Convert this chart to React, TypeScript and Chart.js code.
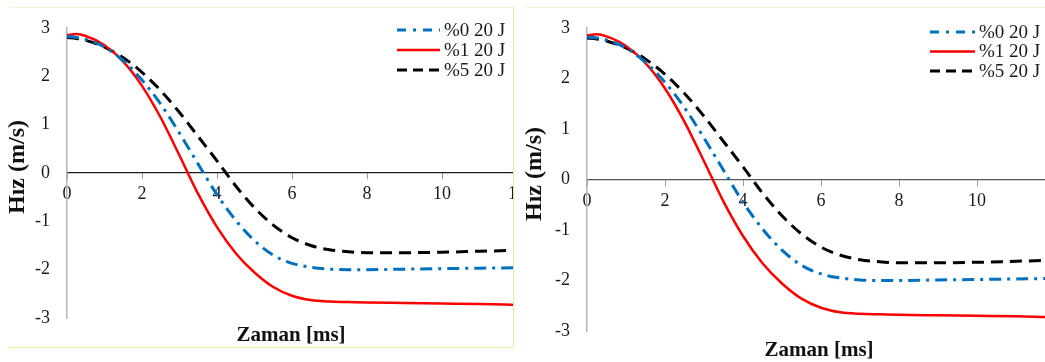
import React, { useEffect, useRef } from "react";
import { Chart, registerables } from "chart.js";

Chart.register(...registerables);

// ---- data ----
const timeMs = [0, 0.25, 0.5, 1, 1.5, 2, 2.5, 3, 3.5, 4, 4.5, 5, 5.5, 6, 6.5, 7, 7.5, 8, 9, 10, 11, 12];
const series0Label = "%0 20 J";
const series0 = [2.82, 2.8, 2.76, 2.6, 2.32, 1.92, 1.42, 0.82, 0.18, -0.45, -0.98, -1.4, -1.7, -1.87, -1.95, -1.99, -2.0, -2.0, -1.99, -1.98, -1.97, -1.96];
const series1Label = "%1 20 J";
const series1 = [2.85, 2.87, 2.83, 2.64, 2.3, 1.8, 1.14, 0.36, -0.44, -1.12, -1.66, -2.06, -2.36, -2.54, -2.63, -2.66, -2.67, -2.68, -2.69, -2.7, -2.71, -2.73];
const series5Label = "%5 20 J";
const series5 = [2.8, 2.78, 2.74, 2.6, 2.38, 2.08, 1.7, 1.25, 0.75, 0.25, -0.27, -0.72, -1.08, -1.34, -1.5, -1.59, -1.63, -1.65, -1.65, -1.64, -1.62, -1.6];
const xTicksMin = 0;
const xTicksMax = 12;
const xTickStep = 2;
const yTicksMin = -3;
const yTicksMax = 3;
const yTickStep = 1;
const xTitle = "Zaman [ms]";
const yTitle = "Hız (m/s)";

const FONT = '"Liberation Serif", "Times New Roman", serif';

const toPoints = (ys: number[]) => timeMs.map((t, i) => ({ x: t, y: ys[i] }));

const overlayPlugin = {
  id: "overlay",
  afterDraw(chart: any, _args: any, opts: any) {
    const ctx = chart.ctx as CanvasRenderingContext2D;
    ctx.save();
    // legend
    chart.data.datasets.forEach((ds: any, i: number) => {
      const y = opts.legendY + i * opts.legendGap;
      ctx.beginPath();
      ctx.setLineDash(ds.legendDash || []);
      ctx.strokeStyle = ds.borderColor;
      ctx.lineWidth = ds.borderWidth;
      ctx.moveTo(opts.legendX, y);
      ctx.lineTo(opts.legendX + opts.legendLen, y);
      ctx.stroke();
      ctx.setLineDash([]);
      ctx.fillStyle = "#1a1a1a";
      ctx.font = `${opts.legendSize}px ${FONT}`;
      ctx.textAlign = "left";
      ctx.textBaseline = "middle";
      ctx.fillText(ds.label, opts.legendX + opts.legendLen + 4, y + 1);
    });
    // axis titles
    ctx.fillStyle = "#111";
    ctx.font = `bold ${opts.xTitleSize}px ${FONT}`;
    ctx.textAlign = "center";
    ctx.textBaseline = "middle";
    ctx.fillText(xTitle, opts.xTitleX, opts.xTitleY);
    ctx.translate(opts.yTitleX, opts.yTitleY);
    ctx.rotate(-Math.PI / 2);
    ctx.font = `bold ${opts.yTitleSize}px ${FONT}`;
    ctx.fillText(yTitle, 0, 0);
    ctx.restore();
  },
};

function SpeedChart(props: {
  width: number;
  height: number;
  padding: { left: number; top: number; right: number; bottom: number };
  yAxisWidth: number;
  xBorder: string;
  overlay: any;
}) {
  const ref = useRef<HTMLCanvasElement | null>(null);
  useEffect(() => {
    if (!ref.current) return;
    const chart = new Chart(ref.current, {
      type: "line",
      data: {
        datasets: [
          {
            label: series0Label,
            data: toPoints(series0),
            borderColor: "#0070C0",
            borderWidth: 3,
            borderDash: [12, 6, 3, 6],
            legendDash: [9, 7, 3, 7],
            pointRadius: 0,
            cubicInterpolationMode: "monotone",
            fill: false,
          } as any,
          {
            label: series1Label,
            data: toPoints(series1),
            borderColor: "#FF0000",
            borderWidth: 2.5,
            pointRadius: 0,
            cubicInterpolationMode: "monotone",
            fill: false,
          } as any,
          {
            label: series5Label,
            data: toPoints(series5),
            borderColor: "#000000",
            borderWidth: 3,
            borderDash: [12, 7],
            legendDash: [10, 6],
            pointRadius: 0,
            cubicInterpolationMode: "monotone",
            fill: false,
          } as any,
        ],
      },
      options: {
        animation: false,
        responsive: false,
        maintainAspectRatio: false,
        devicePixelRatio: 1,
        layout: { padding: props.padding },
        plugins: {
          legend: { display: false },
          tooltip: { enabled: false },
          overlay: props.overlay,
        } as any,
        scales: {
          x: {
            type: "linear",
            min: xTicksMin,
            max: xTicksMax,
            position: { y: 0 } as any,
            afterFit: (s: any) => {
              s.height = 0;
            },
            ticks: {
              stepSize: xTickStep,
              font: { family: FONT, size: 18 },
              color: "#1a1a1a",
              padding: 5,
              maxRotation: 0,
              autoSkip: false,
            },
            grid: { drawOnChartArea: false, drawTicks: true, tickLength: 6, color: "#9a9a9a" },
            border: { color: props.xBorder, width: 1.2 },
          },
          y: {
            type: "linear",
            min: yTicksMin,
            max: yTicksMax,
            position: "left",
            afterFit: (s: any) => {
              s.width = props.yAxisWidth;
            },
            ticks: {
              stepSize: yTickStep,
              font: { family: FONT, size: 18 },
              color: "#1a1a1a",
              padding: 17,
            },
            grid: { drawOnChartArea: false, drawTicks: false },
            border: { color: "#b5b5b5", width: 1.5 },
          },
        },
      },
      plugins: [overlayPlugin],
    });
    return () => chart.destroy();
  }, []);
  return (
    <canvas
      ref={ref}
      width={props.width}
      height={props.height}
      style={{ display: "block", width: props.width, height: props.height }}
    />
  );
}

const line = (style: React.CSSProperties): React.CSSProperties => ({
  position: "absolute",
  background: "#efe79a",
  ...style,
});

export default function App() {
  return (
    <div
      style={{
        position: "absolute",
        left: 0,
        top: 0,
        width: 1045,
        height: 362,
        overflow: "hidden",
        background: "#fff",
      }}
    >
      <div style={{ position: "absolute", left: 0, top: 0, width: 514, height: 350, overflow: "hidden" }}>
        <SpeedChart
          width={532}
          height={350}
          padding={{ left: 0, top: 16, right: 15, bottom: 32 }}
          yAxisWidth={67}
          xBorder="#1a1a1a"
          overlay={{
            legendX: 397,
            legendY: 30,
            legendGap: 20,
            legendLen: 43,
            legendSize: 19,
            xTitleX: 291,
            xTitleY: 336,
            xTitleSize: 21,
            yTitleX: 17.5,
            yTitleY: 167,
            yTitleSize: 24,
          }}
        />
      </div>
      <div style={line({ left: 9, top: 7, width: 505, height: 1, opacity: 0.5 })} />
      <div style={line({ left: 9, top: 347, width: 505, height: 1 })} />
      <div style={line({ left: 513, top: 7, width: 1, height: 341 })} />
      <div style={{ position: "absolute", left: 520, top: 0, width: 525, height: 362, overflow: "hidden" }}>
        <SpeedChart
          width={550}
          height={370}
          padding={{ left: 0, top: 17, right: 15, bottom: 39 }}
          yAxisWidth={67}
          xBorder="#555555"
          overlay={{
            legendX: 410,
            legendY: 32,
            legendGap: 19.5,
            legendLen: 45,
            legendSize: 19,
            xTitleX: 299,
            xTitleY: 351,
            xTitleSize: 21,
            yTitleX: 15,
            yTitleY: 174,
            yTitleSize: 24,
          }}
        />
      </div>
      <div style={line({ left: 525, top: 7, width: 520, height: 1, opacity: 0.5 })} />
    </div>
  );
}
